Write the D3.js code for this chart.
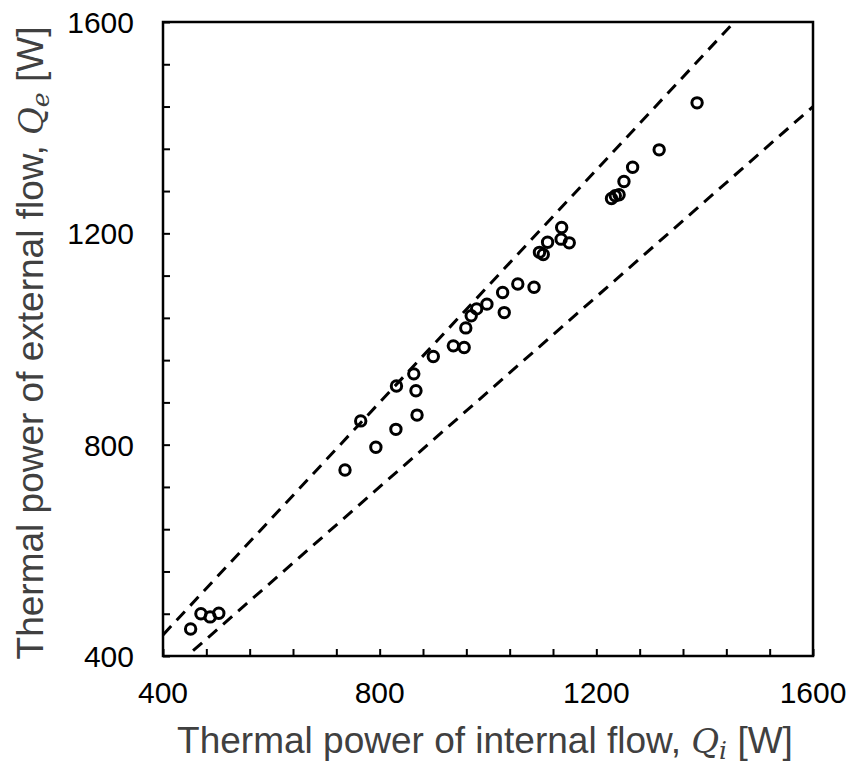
<!DOCTYPE html>
<html>
<head>
<meta charset="utf-8">
<title>Thermal power: internal vs external flow</title>
<script src="https://d3js.org/d3.v7.min.js"></script>
<style>
  body { margin: 0; background: #fff; }
</style>
</head>
<body>
<script>
// measured points: internal flow Qi [W], external flow Qe [W]
const qInternal = [451, 470, 487, 503, 736, 765, 793, 830, 869, 831, 867, 863,
  899, 936, 956, 959, 969, 979, 998, 1027, 1030, 1055, 1085, 1095, 1102, 1110,
  1136, 1135, 1150, 1228, 1235, 1242, 1251, 1267, 1316, 1386];
const qExternal = [451, 480, 474, 481, 752, 845, 795, 829, 856, 911, 902, 934,
  967, 987, 984, 1021, 1044, 1057, 1066, 1088, 1050, 1104, 1098, 1164, 1160, 1183,
  1211, 1189, 1182, 1266, 1271, 1273, 1298, 1325, 1358, 1447];
// +/-10 % bands
const bandFactors = [1.1, 0.9];
const tickLabels = [400, 800, 1200, 1600];
const minorStep = 80;

const width = 852, height = 764;
const margin = {left: 163, top: 22, right: 39, bottom: 108};
const domain = [400, 1600];

const svg = d3.select("body").append("svg")
  .attr("width", width)
  .attr("height", height);

const x = d3.scaleLinear().domain(domain).range([margin.left, width - margin.right]);
const y = d3.scaleLinear().domain(domain).range([height - margin.bottom, margin.top]);

const minorTicks = d3.range(domain[0], domain[1] + 1, minorStep);

svg.append("clipPath").attr("id", "plot")
  .append("rect")
  .attr("x", x(domain[0])).attr("y", y(domain[1]))
  .attr("width", x(domain[1]) - x(domain[0]))
  .attr("height", y(domain[0]) - y(domain[1]));

// dashed bands
const line = d3.line().x(d => x(d[0])).y(d => y(d[1]));
svg.append("g").attr("clip-path", "url(#plot)")
  .selectAll("path")
  .data(bandFactors).join("path")
  .attr("d", f => line([[domain[0], domain[0] * f], [domain[1], domain[1] * f]]))
  .attr("fill", "none")
  .attr("stroke", "#000")
  .attr("stroke-width", 3)
  .attr("stroke-dasharray", "12,8");

// points
const points = qInternal.map((v, i) => [v, qExternal[i]]);
svg.append("g")
  .selectAll("circle")
  .data(points).join("circle")
  .attr("cx", d => x(d[0]))
  .attr("cy", d => y(d[1]))
  .attr("r", 5.2)
  .attr("fill", "none")
  .attr("stroke", "#000")
  .attr("stroke-width", 3);

// axes with inward ticks
const xAxis = svg.append("g")
  .attr("transform", `translate(0,${y(domain[0])})`)
  .call(d3.axisBottom(x).tickValues(minorTicks).tickSizeInner(-7).tickSizeOuter(0).tickFormat(""));
const yAxis = svg.append("g")
  .attr("transform", `translate(${x(domain[0])},0)`)
  .call(d3.axisLeft(y).tickValues(minorTicks).tickSizeInner(-7).tickSizeOuter(0).tickFormat(""));
[xAxis, yAxis].forEach(a => {
  a.select(".domain").remove();
  a.selectAll("line").attr("stroke", "#000").attr("stroke-width", 2);
});

// frame
svg.append("rect")
  .attr("x", x(domain[0])).attr("y", y(domain[1]))
  .attr("width", x(domain[1]) - x(domain[0]))
  .attr("height", y(domain[0]) - y(domain[1]))
  .attr("fill", "none")
  .attr("stroke", "#000")
  .attr("stroke-width", 2.5);

// tick labels
const font = "'Liberation Sans', Arial, sans-serif";
svg.append("g").selectAll("text")
  .data(tickLabels).join("text")
  .attr("x", d => x(d))
  .attr("y", y(domain[0]) + 47)
  .attr("text-anchor", "middle")
  .style("font-family", font)
  .style("font-size", "30px")
  .text(d => d);
svg.append("g").selectAll("text")
  .data(tickLabels).join("text")
  .attr("x", x(domain[0]) - 29)
  .attr("y", d => y(d) + 11)
  .attr("text-anchor", "end")
  .style("font-family", font)
  .style("font-size", "30px")
  .text(d => d);

// axis titles
function title(sel, main, sym, sub) {
  sel.style("font-family", font).style("font-size", "37px").attr("fill", "#404040");
  sel.append("tspan").text(main);
  sel.append("tspan").text(sym)
    .style("font-family", "'DejaVu Serif', serif").style("font-style", "italic").style("font-size", "34px");
  sel.append("tspan").text(sub).attr("dy", 6)
    .style("font-family", "'DejaVu Serif', serif").style("font-style", "italic").style("font-size", "25px");
  sel.append("tspan").text(" [W]").attr("dy", -6);
}
svg.append("text")
  .attr("x", 485)
  .attr("y", 753)
  .attr("text-anchor", "middle")
  .call(title, "Thermal power of internal flow, ", "Q", "i");
svg.append("text")
  .attr("transform", `translate(43,${(y(domain[0]) + y(domain[1])) / 2 + 4}) rotate(-90)`)
  .attr("text-anchor", "middle")
  .call(title, "Thermal power of external flow, ", "Q", "e");
</script>
</body>
</html>
